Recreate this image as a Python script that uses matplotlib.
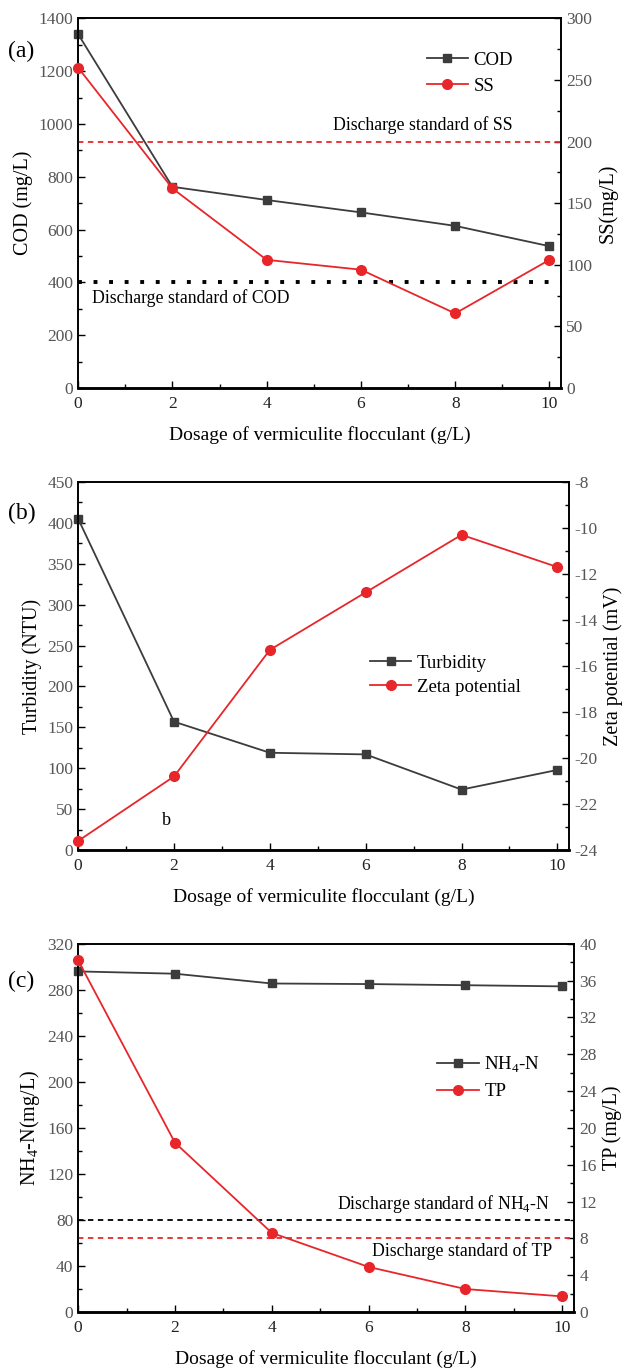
import numpy as np
import matplotlib.pyplot as plt
from matplotlib.ticker import MultipleLocator
from matplotlib.lines import Line2D

plt.rcParams['font.family'] = ['Liberation Serif', 'DejaVu Serif']
plt.rcParams['mathtext.fontset'] = 'custom'
plt.rcParams['mathtext.rm'] = 'Liberation Serif'
plt.rcParams['axes.unicode_minus'] = False

dosage = [0, 2, 4, 6, 8, 10]

# panel (a)
cod = [1340, 762, 712, 665, 614, 537]
ss = [260, 162, 104, 96, 60.5, 104]
cod_std = 400
ss_std = 200

# panel (b)
turbidity = [405, 157, 119, 117, 74, 98]
zeta = [-23.6, -20.8, -15.3, -12.8, -10.3, -11.7]

# panel (c)
nh4 = [296, 294, 285.5, 285, 284, 283]
tp = [38.2, 18.4, 8.6, 4.9, 2.5, 1.7]
nh4_std = 80
tp_std = 8

BLACK = '#3c3c3c'
RED = '#e8262a'
TICKC = '#555555'
XLABEL = 'Dosage of vermiculite flocculant (g/L)'

fig = plt.figure(figsize=(6.25, 13.69), dpi=100)


def style(ax, ax2, ymaj, ymin, y2maj, y2min):
    ax.set_xlim(0, 10.25)
    ax.xaxis.set_major_locator(MultipleLocator(2))
    ax.xaxis.set_minor_locator(MultipleLocator(1))
    ax.yaxis.set_major_locator(MultipleLocator(ymaj))
    ax.yaxis.set_minor_locator(MultipleLocator(ymin))
    ax2.yaxis.set_major_locator(MultipleLocator(y2maj))
    ax2.yaxis.set_minor_locator(MultipleLocator(y2min))
    for a in (ax, ax2):
        a.tick_params(which='both', direction='in', labelsize=12.5, labelcolor=TICKC)
        a.tick_params(which='major', length=5, width=1)
        a.tick_params(which='minor', length=3, width=1)
        for s in a.spines.values():
            s.set_linewidth(1.2)
        a.spines['bottom'].set_linewidth(1.8)
    ax.tick_params(axis='x', labelcolor='#222222', labelsize=12.5)
    ax.tick_params(axis='x', which='both', pad=6)
    ax2.tick_params(axis='y', which='both', left=False)
    ax.tick_params(axis='y', which='both', right=False)
    ax.set_xlabel(XLABEL, fontsize=14, labelpad=10)


# ---------- (a)
ax = fig.add_axes([0.125, 0.7166, 0.773, 0.270])
ax2 = ax.twinx()
ax.plot(dosage, cod, color=BLACK, marker='s', ms=6, lw=1.3, clip_on=False, zorder=5)
ax2.plot(dosage, ss, color=RED, marker='o', ms=7, lw=1.3, clip_on=False, zorder=5)
ax.axhline(cod_std, color='black', ls=(0, (1, 3)), lw=2.8)
ax2.axhline(ss_std, color=RED, ls=(0, (3, 2.5)), lw=1.3)
ax.set_ylim(0, 1400)
ax2.set_ylim(0, 300)
style(ax, ax2, 200, 100, 50, 25)
ax.set_ylabel('COD (mg/L)', fontsize=14.5, labelpad=4)
ax2.set_ylabel('SS(mg/L)', fontsize=14.5, labelpad=4)
ax.text(5.4, 995, 'Discharge standard of SS', fontsize=12.8, va='center')
ax.text(0.3, 342, 'Discharge standard of COD', fontsize=12.8, va='center')
fig.text(0.013, 0.958, '(a)', fontsize=17)
handles = [Line2D([], [], color=BLACK, marker='s', ms=6, lw=1.3),
           Line2D([], [], color=RED, marker='o', ms=7, lw=1.3)]
ax.legend(handles, ['COD', 'SS'], loc='upper right', bbox_to_anchor=(0.935, 0.955),
          frameon=False, fontsize=13.5, handlelength=2.2, handletextpad=0.3, labelspacing=0.45)

# ---------- (b)
ax = fig.add_axes([0.125, 0.379, 0.786, 0.269])
ax2 = ax.twinx()
ax.plot(dosage, turbidity, color=BLACK, marker='s', ms=6, lw=1.3, clip_on=False, zorder=5)
ax2.plot(dosage, zeta, color=RED, marker='o', ms=7, lw=1.3, clip_on=False, zorder=5)
ax.set_ylim(0, 450)
ax2.set_ylim(-24, -8)
style(ax, ax2, 50, 25, 2, 1)
ax.set_ylabel('Turbidity (NTU)', fontsize=14.5, labelpad=4)
ax2.set_ylabel('Zeta potential (mV)', fontsize=14.5, labelpad=4)
ax.text(1.85, 36, 'b', fontsize=13, va='center', ha='center')
fig.text(0.013, 0.621, '(b)', fontsize=17)
handles = [Line2D([], [], color=BLACK, marker='s', ms=6, lw=1.3),
           Line2D([], [], color=RED, marker='o', ms=7, lw=1.3)]
ax.legend(handles, ['Turbidity', 'Zeta potential'], loc='center left', bbox_to_anchor=(0.56, 0.475),
          frameon=False, fontsize=13.5, handlelength=2.2, handletextpad=0.3, labelspacing=0.35)

# ---------- (c)
ax = fig.add_axes([0.125, 0.0416, 0.794, 0.269])
ax2 = ax.twinx()
ax.plot(dosage, nh4, color=BLACK, marker='s', ms=6, lw=1.3, clip_on=False, zorder=5)
ax2.plot(dosage, tp, color=RED, marker='o', ms=7, lw=1.3, clip_on=False, zorder=5)
ax.axhline(nh4_std, color='black', ls=(0, (3, 2.5)), lw=1.3)
ax2.axhline(tp_std, color=RED, ls=(0, (3, 2.5)), lw=1.3)
ax.set_ylim(0, 320)
ax2.set_ylim(0, 40)
style(ax, ax2, 40, 20, 4, 2)
ax.set_ylabel('NH$_4$-N(mg/L)', fontsize=14.5, labelpad=4)
ax2.set_ylabel('TP (mg/L)', fontsize=14.5, labelpad=4)
ax.text(9.75, 94, 'Discharge standard of NH$_4$-N', fontsize=12.8, va='center', ha='right')
ax.text(9.8, 53, 'Discharge standard of TP', fontsize=12.8, va='center', ha='right')
fig.text(0.013, 0.279, '(c)', fontsize=17)
handles = [Line2D([], [], color=BLACK, marker='s', ms=6, lw=1.3),
           Line2D([], [], color=RED, marker='o', ms=7, lw=1.3)]
ax.legend(handles, ['NH$_4$-N', 'TP'], loc='upper left', bbox_to_anchor=(0.69, 0.745),
          frameon=False, fontsize=13.5, handlelength=2.2, handletextpad=0.3, labelspacing=0.45)

fig.savefig('out.png', dpi=100)
